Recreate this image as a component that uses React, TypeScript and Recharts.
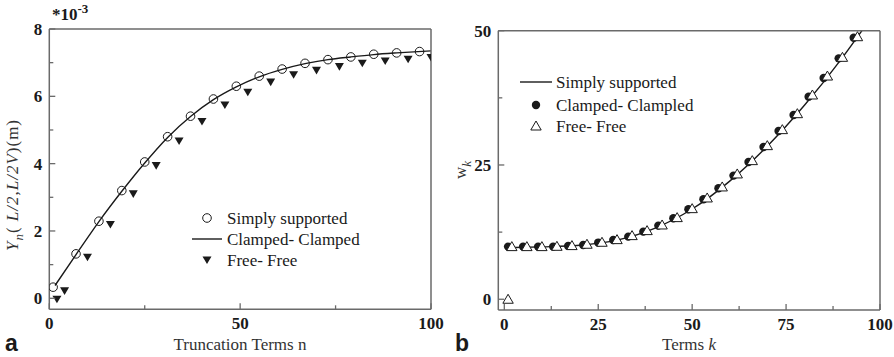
import React from 'react';
import { ComposedChart, Line, Scatter, XAxis, YAxis } from 'recharts';

// ---------- Panel a data ----------
const ssN = [1, 7, 13, 19, 25, 31, 37, 43, 49, 55, 61, 67, 73, 79, 85, 91, 97];
const ssY = [0.33, 1.32, 2.29, 3.2, 4.05, 4.8, 5.41, 5.92, 6.3, 6.6, 6.81, 6.98, 7.09, 7.17, 7.25, 7.29, 7.33];
const ccLineN = [1.5, 7, 13, 19, 25, 31, 37, 43, 49, 55, 61, 67, 73, 79, 85, 91, 100];
const ccLineY = [0.38, 1.3, 2.28, 3.18, 4.02, 4.78, 5.4, 5.9, 6.28, 6.58, 6.8, 6.97, 7.09, 7.17, 7.24, 7.29, 7.35];
const ffN = [2, 4, 10, 16, 22, 28, 34, 40, 46, 52, 58, 64, 70, 76, 82, 88, 94, 100];
const ffY = [-0.03, 0.22, 1.22, 2.19, 3.1, 3.94, 4.67, 5.25, 5.74, 6.12, 6.42, 6.64, 6.77, 6.88, 6.98, 7.05, 7.1, 7.15];
const aXTicks = [0, 25, 50, 75, 100];
const aXMajor = [0, 50, 100];
const aYTicks = [0, 1, 2, 3, 4, 5, 6, 7, 8];
const aYMajor = [0, 2, 4, 6, 8];

// ---------- Panel b data ----------
const bLineK = [1, 10, 20, 30, 40, 50, 60, 70, 80, 90, 96];
const bLineW = [9.6, 9.75, 10.05, 11.0, 13.2, 16.8, 22.0, 28.5, 36.2, 45.0, 50.8];
const bCcK = [1, 5, 9, 13, 17, 21, 25, 29, 33, 37, 41, 45, 49, 53, 57, 61, 65, 69, 73, 77, 81, 85, 89, 93];
const bCcW = [9.8, 9.8, 9.8, 9.8, 9.93, 10.11, 10.55, 11.04, 11.66, 12.59, 13.71, 15.07, 16.75, 18.61, 20.66, 23.02, 25.56, 28.35, 31.33, 34.31, 37.72, 41.19, 44.85, 48.7];
const bFfK = [1, 2, 6, 10, 14, 18, 22, 26, 30, 34, 38, 42, 46, 50, 54, 58, 62, 66, 70, 74, 78, 82, 86, 90, 94];
const bFfW = [0, 9.8, 9.8, 9.8, 9.86, 9.99, 10.24, 10.61, 11.1, 11.85, 12.78, 13.83, 15.2, 16.87, 18.86, 20.91, 23.33, 25.81, 28.6, 31.58, 34.55, 38.03, 41.56, 45.04, 48.88];
const bXTicks = [0, 12.5, 25, 37.5, 50, 62.5, 75, 87.5, 100];
const bXMajor = [0, 25, 50, 75, 100];
const bYTicks = [0, 12.5, 25, 37.5, 50];
const bYMajor = [0, 25, 50];

const zip = (xs: number[], ys: number[]) => xs.map((x, i) => ({ x, y: ys[i] }));

const AX = '#6a6a6a';
const INK = '#1a1a1a';
const SERIF = '"Liberation Serif", "DejaVu Serif", serif';

const makeBottomTick = (major: number[]) => (props: any) => {
  const { x, y, payload } = props;
  const v = payload.value;
  const isMajor = major.includes(v);
  return (
    <g>
      <line x1={x} x2={x} y1={y} y2={y - (isMajor ? 6 : 4)} stroke={AX} strokeWidth={1.3} />
      {isMajor && (
        <text x={x} y={y + 20} textAnchor="middle" fontFamily={SERIF} fontWeight="bold" fontSize={17} fill={INK}>
          {v}
        </text>
      )}
    </g>
  );
};

const makeLeftTick = (major: number[]) => (props: any) => {
  const { x, y, payload } = props;
  const v = payload.value;
  const isMajor = major.includes(v);
  return (
    <g>
      <line x1={x} x2={x + (isMajor ? 6 : 4)} y1={y} y2={y} stroke={AX} strokeWidth={1.3} />
      {isMajor && (
        <text x={x - 7} y={y + 6} textAnchor="end" fontFamily={SERIF} fontWeight="bold" fontSize={17} fill={INK}>
          {v}
        </text>
      )}
    </g>
  );
};

const openCircle = (p: any) => <circle cx={p.cx} cy={p.cy} r={4.3} fill="none" stroke={INK} strokeWidth={1} />;
const downTri = (p: any) => (
  <path d={`M${p.cx - 4.5},${p.cy - 3.6}L${p.cx + 4.5},${p.cy - 3.6}L${p.cx},${p.cy + 4}Z`} fill={INK} />
);
const filledCircle = (p: any) => <circle cx={p.cx} cy={p.cy} r={4.2} fill={INK} />;
const upTri = (p: any) => (
  <path d={`M${p.cx},${p.cy - 5}L${p.cx + 5.2},${p.cy + 4}L${p.cx - 5.2},${p.cy + 4}Z`} fill="#fff" stroke={INK} strokeWidth={1} />
);

const PanelA = () => (
  <ComposedChart width={450} height={357} margin={{ top: 28, right: 18, bottom: 46.7, left: 48.3 }}>
    <XAxis type="number" dataKey="x" domain={[0, 100]} allowDataOverflow ticks={aXTicks} interval={0}
      height={1} tickSize={0} tickMargin={0} tickLine={false} tick={makeBottomTick(aXMajor)}
      axisLine={{ stroke: AX, strokeWidth: 1.5 }} />
    <XAxis xAxisId="top" orientation="top" type="number" domain={[0, 100]} height={1} tick={false} tickLine={false}
      axisLine={{ stroke: AX, strokeWidth: 1.5 }} />
    <YAxis type="number" domain={[-0.327, 8]} allowDataOverflow ticks={aYTicks} interval={0}
      width={1} tickSize={0} tickMargin={0} tickLine={false} tick={makeLeftTick(aYMajor)}
      axisLine={{ stroke: AX, strokeWidth: 1.5 }} />
    <YAxis yAxisId="right" orientation="right" type="number" domain={[-0.327, 8]} width={1} tick={false} tickLine={false}
      axisLine={{ stroke: AX, strokeWidth: 1.5 }} />
    <Line data={zip(ccLineN, ccLineY)} dataKey="y" type="monotone" stroke={INK} strokeWidth={1.4} dot={false} isAnimationActive={false} />
    <Scatter data={zip(ssN, ssY)} dataKey="y" shape={openCircle} isAnimationActive={false} />
    <Scatter data={zip(ffN, ffY)} dataKey="y" shape={downTri} isAnimationActive={false} />
  </ComposedChart>
);

const PanelB = () => (
  <ComposedChart width={444} height={357} margin={{ top: 29.7, right: 13, bottom: 46, left: 47.3 }}>
    <XAxis type="number" dataKey="x" domain={[-1.6, 100]} allowDataOverflow ticks={bXTicks} interval={0}
      height={1} tickSize={0} tickMargin={0} tickLine={false} tick={makeBottomTick(bXMajor)}
      axisLine={{ stroke: AX, strokeWidth: 1.5 }} />
    <XAxis xAxisId="top" orientation="top" type="number" domain={[-1.6, 100]} height={1} tick={false} tickLine={false}
      axisLine={{ stroke: AX, strokeWidth: 1.5 }} />
    <YAxis type="number" domain={[-2, 50]} allowDataOverflow ticks={bYTicks} interval={0}
      width={1} tickSize={0} tickMargin={0} tickLine={false} tick={makeLeftTick(bYMajor)}
      axisLine={{ stroke: AX, strokeWidth: 1.5 }} />
    <YAxis yAxisId="right" orientation="right" type="number" domain={[-2, 50]} width={1} tick={false} tickLine={false}
      axisLine={{ stroke: AX, strokeWidth: 1.5 }} />
    <Line data={zip(bLineK, bLineW)} dataKey="y" type="monotone" stroke={INK} strokeWidth={1.4} dot={false} isAnimationActive={false} />
    <Scatter data={zip(bCcK, bCcW)} dataKey="y" shape={filledCircle} isAnimationActive={false} />
    <Scatter data={zip(bFfK, bFfW)} dataKey="y" shape={upTri} isAnimationActive={false} />
  </ComposedChart>
);

const Overlay = () => (
  <svg width={894} height={357} style={{ position: 'absolute', left: 0, top: 0, pointerEvents: 'none' }}>
    <g fontFamily={SERIF} fill={INK}>
      {/* Panel a */}
      <text x={52} y={20} fontSize={17} fontWeight="bold">
        *10<tspan fontSize={13} dy={-7}>-3</tspan>
      </text>
      <text transform="translate(18,185) rotate(-90)" textAnchor="middle" fontSize={17} fill="#333" letterSpacing={1}>
        <tspan fontStyle="italic">Y</tspan>
        <tspan fontStyle="italic" fontSize={13} dy={5}>n</tspan>
        <tspan dy={-5}>( </tspan>
        <tspan fontStyle="italic">L/2,L/2V</tspan>
        <tspan>)(m)</tspan>
      </text>
      <text x={240} y={350} textAnchor="middle" fontSize={17} fill="#333">Truncation Terms n</text>
      <text x={5} y={351} fontSize={23} fontWeight="bold" fontFamily='"Liberation Sans", Arial, sans-serif'>a</text>

      <circle cx={207} cy={218} r={4.3} fill="none" stroke={INK} strokeWidth={1} />
      <text x={227} y={224} fontSize={17}>Simply supported</text>
      <line x1={192} x2={222} y1={239} y2={239} stroke={INK} strokeWidth={1.4} />
      <text x={227} y={245} fontSize={17}>Clamped- Clamped</text>
      <path d="M202.5,256.4L211.5,256.4L207,264Z" fill={INK} />
      <text x={227} y={266} fontSize={17}>Free- Free</text>

      {/* Panel b */}
      <text transform="translate(466,170) rotate(-90)" textAnchor="middle" fontSize={17} fill="#333">
        w<tspan fontStyle="italic" fontSize={13} dy={5}>k</tspan>
      </text>
      <text x={689} y={350} textAnchor="middle" fontSize={17} fill="#333">
        Terms <tspan fontStyle="italic">k</tspan>
      </text>
      <text x={455} y={351} fontSize={23} fontWeight="bold" fontFamily='"Liberation Sans", Arial, sans-serif'>b</text>

      <line x1={520} x2={552} y1={82} y2={82} stroke={INK} strokeWidth={1.4} />
      <text x={556} y={88} fontSize={17}>Simply supported</text>
      <circle cx={536} cy={105} r={4.2} fill={INK} />
      <text x={556} y={111} fontSize={17}>Clamped- Clampled</text>
      <path d="M536,121L541.2,130L530.8,130Z" fill="#fff" stroke={INK} strokeWidth={1} />
      <text x={556} y={132} fontSize={17}>Free- Free</text>
    </g>
  </svg>
);

export default function App() {
  return (
    <div style={{ position: 'fixed', left: 0, top: 0, width: 894, height: 357, background: '#fff' }}>
      <div style={{ position: 'absolute', left: 0, top: 0 }}>
        <PanelA />
      </div>
      <div style={{ position: 'absolute', left: 450, top: 0 }}>
        <PanelB />
      </div>
      <Overlay />
    </div>
  );
}
